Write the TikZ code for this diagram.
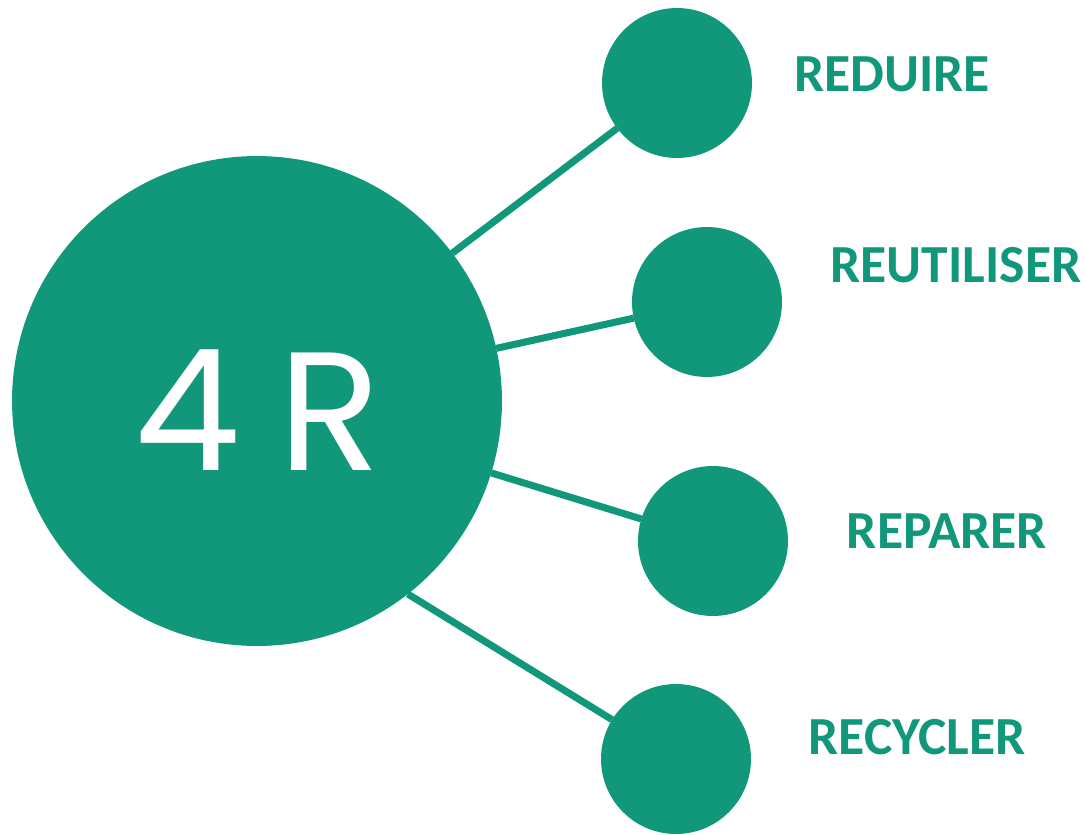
\documentclass[tikz,border=0pt]{standalone}
\usepackage{fontspec}
\setmainfont{Carlito}
\newfontfamily\rondfont{Poppins}
\definecolor{vert}{HTML}{11987A}
\tikzset{
  hub/.style = {circle, fill = vert, inner sep = 0pt, outer sep = 0pt, minimum size = 9.8cm},
  bulle/.style = {circle, fill = vert, inner sep = 0pt, outer sep = 0pt, minimum size = 3cm},
  etiquette/.style = {text = vert, inner sep = 0pt, font = \fontsize{30.5}{34}\selectfont\bfseries},
  lien/.style = {draw = vert, line width = 4pt}
}

\begin{document}
\begin{tikzpicture}[x = 0.02cm, y = -0.02cm]
				\useasboundingbox (0,0) rectangle (1086,835);
				\node [hub] (centre) at(257,401) {};
				\node [text = white, inner sep = 0pt, font = \rondfont\fontsize{96}{96}\selectfont] (titre) at(258,410) {4\hspace{0.23em}R};
				%
				\node [bulle] (reduire) at(677,83) {};
				\node [bulle] (reutiliser) at(707,302) {};
				\node [bulle] (reparer) at(713,541) {};
				\node [bulle] (recycler) at(676,759) {};
				%
				\draw [lien] (centre) -- (reduire);
				\draw [lien] (centre) -- (reutiliser);
				\draw [lien] (centre) -- (reparer);
				\draw [lien] (centre.-52) -- (recycler);
				%
				\node [etiquette] (t1) at(892,74) {REDUIRE};
				\node [etiquette] (t2) at(956,265) {REUTILISER};
				\node [etiquette] (t3) at(947,531) {REPARER};
				\node [etiquette] (t4) at(917,737) {RECYCLER};
			\end{tikzpicture}
\end{document}
